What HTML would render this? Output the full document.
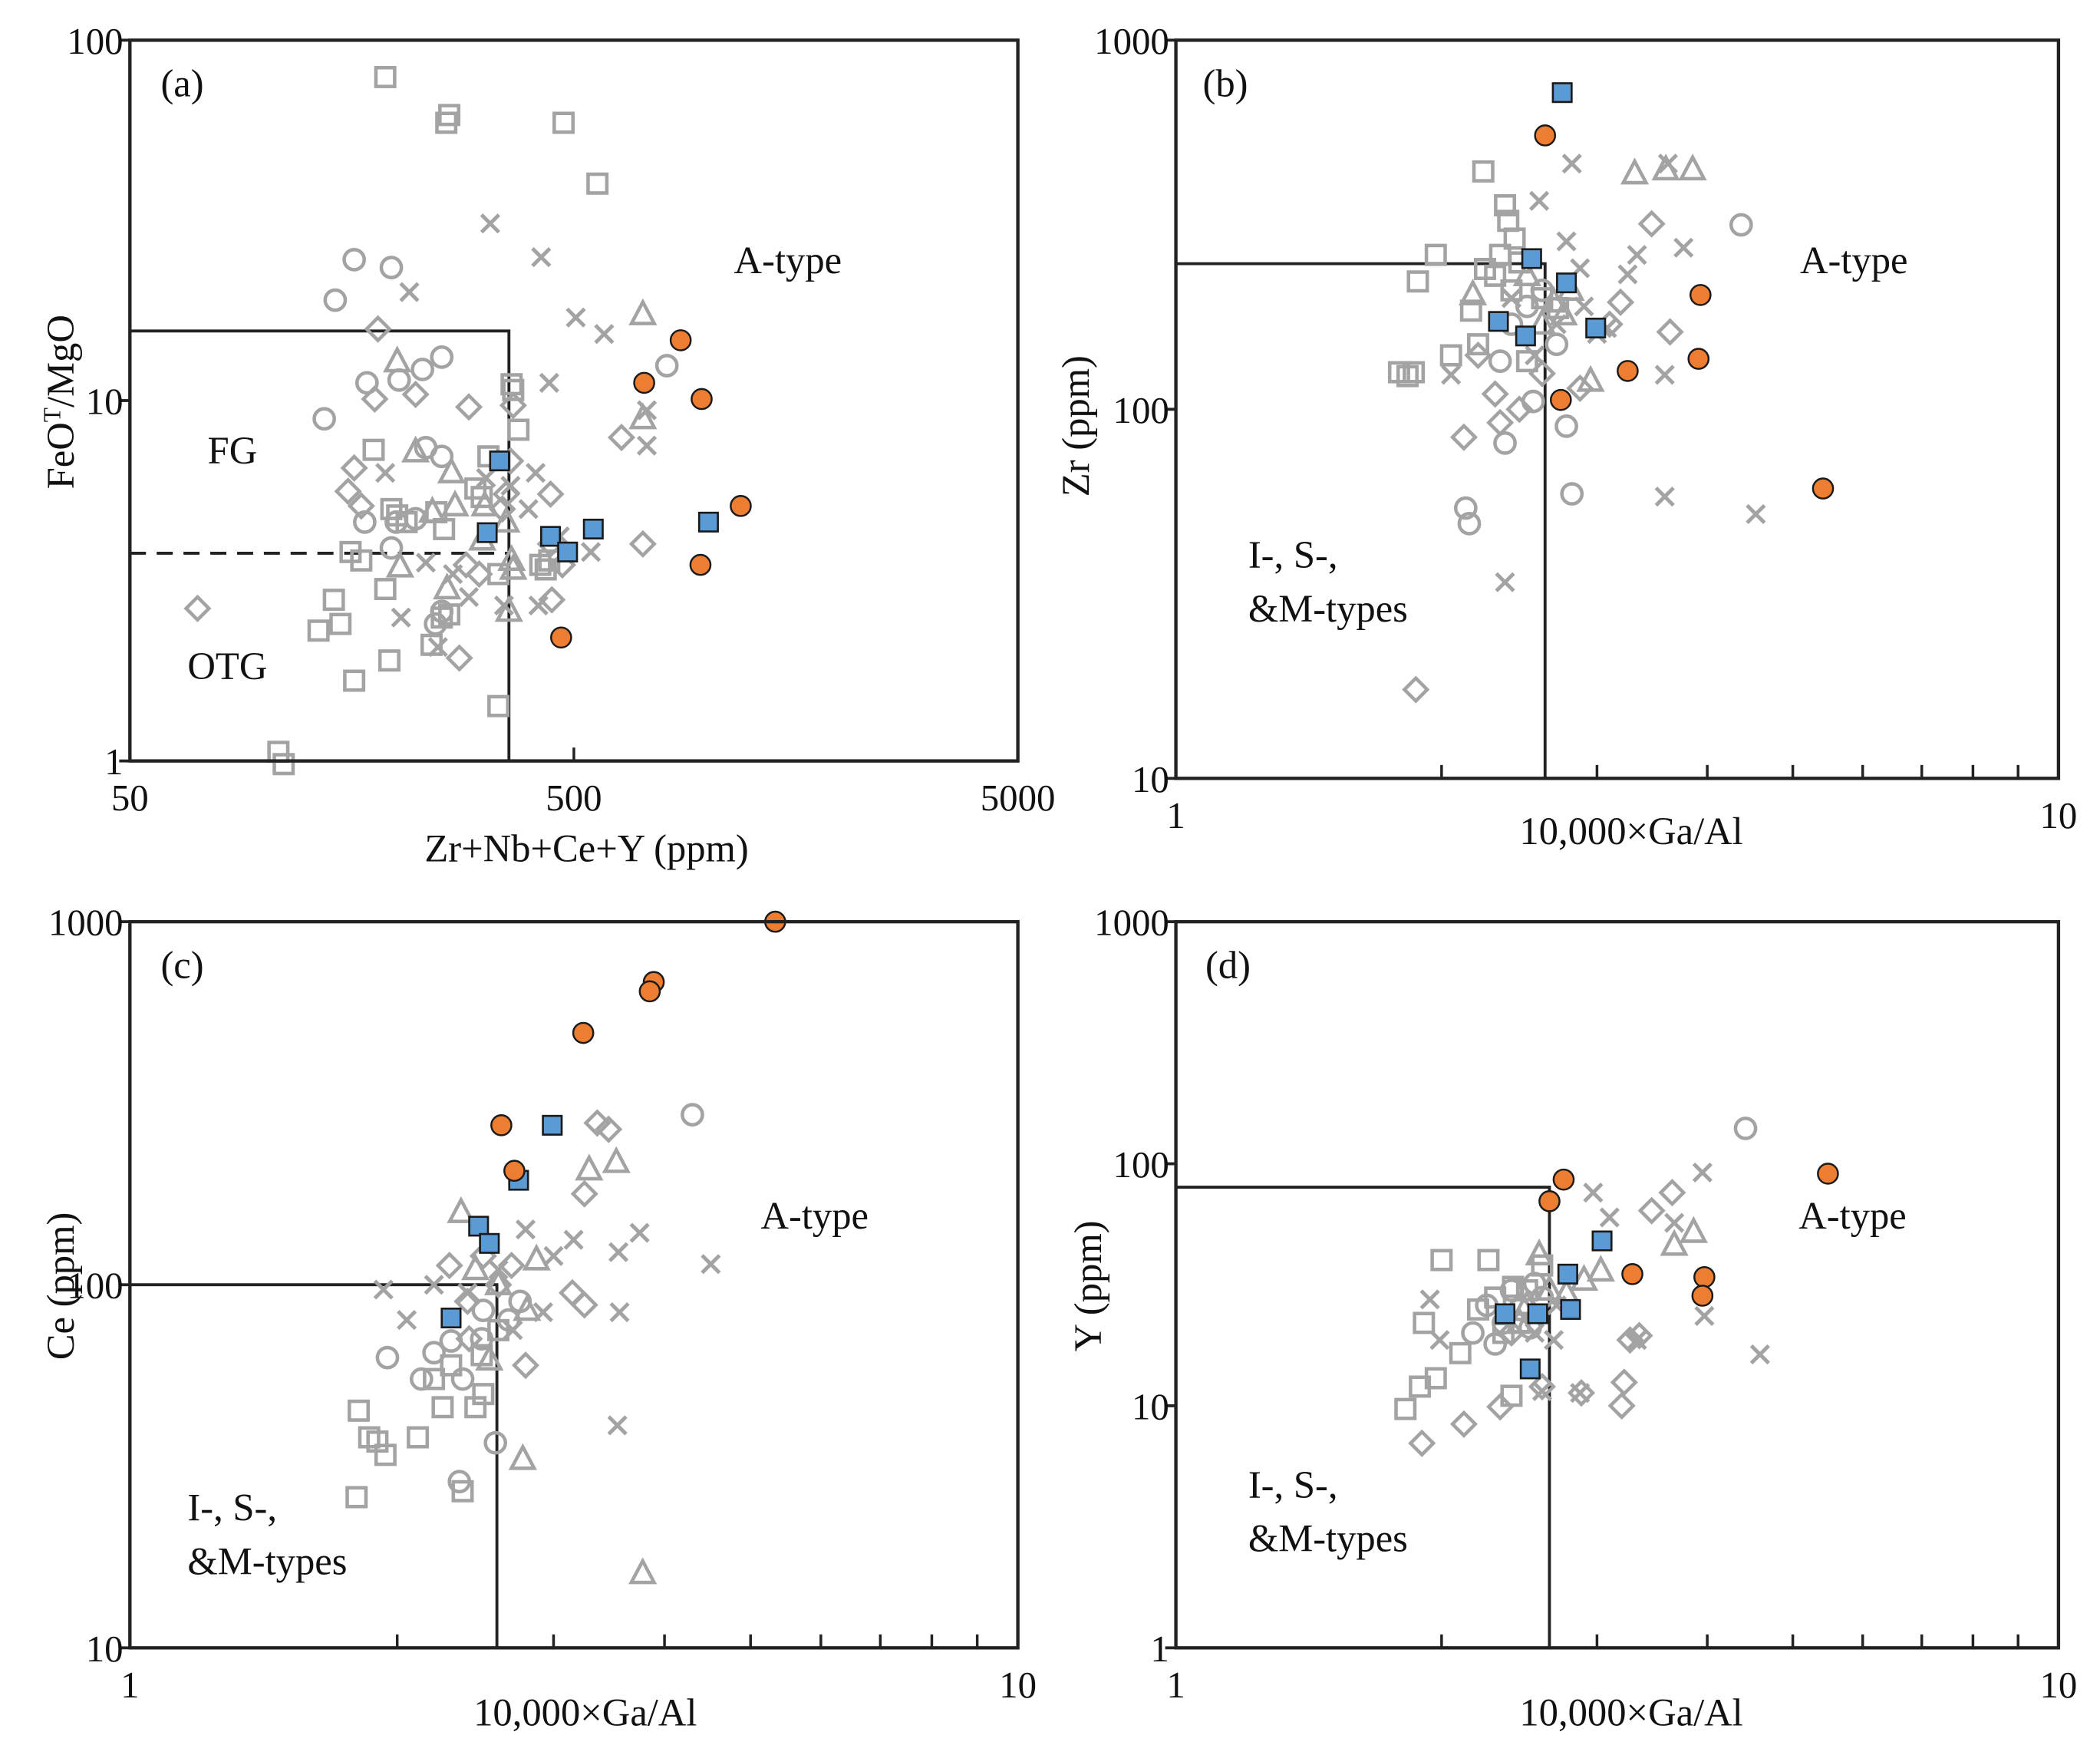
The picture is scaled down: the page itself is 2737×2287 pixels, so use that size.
<!DOCTYPE html>
<html><head><meta charset="utf-8"><title>Granite discrimination diagrams</title>
<style>
html,body{margin:0;padding:0;background:#fff;}
svg{display:block;font-family:"Liberation Serif",serif;}
</style></head>
<body>
<svg id="fig" width="2737" height="2287" viewBox="0 0 1568 1310" preserveAspectRatio="none" xmlns="http://www.w3.org/2000/svg">
<g id="root"></g>
</svg>
<script>
// ---------- DATA (values in data units) ----------
// Panel (a): x = Zr+Nb+Ce+Y (ppm), y = FeOT/MgO
const aOrange=[[870,14.7],[720,11.2],[970,10.1],[1188,5.1],[964,3.5],[468,2.2]];
const aBlue=[[340,6.8],[319,4.3],[443,4.2],[484,3.8],[553,4.4],[1005,4.6]];
const aSquare=[[188,79],[258,59],[262,62],[474,59],[565,40],[362,11.1],[365,10.7],[375,8.3],[177,7.3],[194,5.0],[200,4.8],[321,7.0],[300,5.7],[310,5.4],[245,4.9],[157,3.8],[166,3.6],[188,3.0],[144,2.8],[133,2.3],[149,2.4],[239,2.1],[192,1.9],[160,1.67],[338,1.42],[108,1.06],[111,0.98],[210,4.6],[255,4.4],[252,2.5],[262,2.55],[338,3.3],[440,3.6],[420,3.5],[432,3.4]];
const aCircle=[[160,24.6],[194,23.4],[145,19.0],[137,8.9],[171,11.2],[228,12.2],[252,13.2],[202,11.4],[252,7.0],[232,7.4],[169,4.6],[199,4.6],[220,4.7],[194,3.9],[244,2.4],[252,2.6],[810,12.5]];
const aDiamond=[[181,15.8],[178,10.1],[220,10.4],[290,9.6],[365,9.7],[160,6.5],[155,5.6],[166,5.1],[345,5.0],[443,5.5],[286,3.5],[306,3.3],[443,4.0],[471,3.5],[446,2.8],[71,2.65],[276,1.93],[640,7.9],[715,4.0],[352,5.5],[360,6.8]];
const aTriangle=[[200,12.8],[220,7.2],[265,6.3],[240,4.9],[270,5.1],[315,5.1],[352,4.6],[311,4.1],[362,3.6],[365,3.4],[203,3.45],[259,3.0],[357,2.6],[715,17.3],[715,8.9]];
const aCross=[[324,31],[422,25],[213,20],[505,17],[585,15.3],[440,11.2],[730,9.4],[730,7.5],[317,6.1],[188,6.3],[410,6.3],[232,3.55],[267,3.3],[204,2.5],[290,2.85],[348,2.7],[465,4.2],[546,3.8],[416,2.7],[247,2.07],[360,5.8],[395,5.0]];
// Panel (b): x = 10000*Ga/Al, y = Zr (ppm)
const bOrange=[[2.62,552],[3.93,204],[3.91,137],[3.25,127],[2.73,106],[5.41,61]];
const bBlue=[[2.74,721],[2.53,256],[2.77,220],[2.32,173],[2.49,158],[2.99,166]];
const bSquare=[[2.23,441],[2.36,357],[1.97,262],[1.88,222],[2.16,185],[1.79,126],[1.86,126],[1.83,123],[2.38,324],[2.42,290],[2.33,262],[2.24,240],[2.5,135],[2.71,188],[2.2,150],[2.4,210],[2.3,230],[2.45,250],[2.6,200],[2.05,140]];
const bCircle=[[4.37,316],[2.13,54],[2.15,49],[2.36,81],[2.77,90],[2.81,59],[2.33,135],[2.54,105],[2.6,210],[2.4,170],[2.7,150],[2.5,190]];
const bDiamond=[[3.46,318],[1.87,17.4],[2.12,84],[3.63,162],[2.33,92],[3.19,195],[2.87,114],[2.2,140],[2.45,100],[2.6,125],[3.1,170],[2.3,110]];
const bTriangle=[[3.31,434],[3.59,445],[3.85,445],[2.95,119],[2.68,195],[2.17,204],[2.5,230],[2.8,210],[2.6,170],[2.75,180]];
const bCross=[[2.81,463],[2.77,285],[3.61,463],[3.33,262],[3.76,274],[3.25,232],[2.36,34],[3.58,58],[4.54,52],[3.58,124],[3.08,166],[2.87,241],[2.05,124],[2.58,367],[2.4,200],[2.7,170],[2.9,190],[3.0,160],[2.55,140]];
// Panel (c): x = 10000*Ga/Al, y = Ce (ppm)
const cOrange=[[5.33,1000],[3.89,682],[3.85,643],[3.24,494],[2.62,275],[2.71,206]];
const cBlue=[[2.99,275],[2.74,194],[2.47,145],[2.54,130],[2.30,81]];
const cSquare=[[1.81,45],[1.86,38],[1.94,34],[1.80,26],[2.11,38],[2.25,46],[2.45,46],[2.49,64],[2.37,27],[1.9,37],[2.2,55],[2.6,75],[2.3,60],[2.5,50]];
const cCircle=[[4.30,294],[2.37,55],[1.95,63],[2.13,55],[2.35,28.7],[2.58,36.7],[2.49,71],[2.67,80],[2.2,65],[2.75,90],[2.5,85],[2.3,70]];
const cDiamond=[[3.36,279],[3.46,268],[3.25,178],[2.69,113],[2.29,113],[2.41,71],[2.79,60],[3.15,95],[3.25,88],[2.4,90],[2.6,100],[2.5,120]];
const cTriangle=[[2.36,158],[3.29,207],[3.53,217],[3.78,16],[2.77,33],[2.87,117],[2.54,62],[2.6,100],[2.8,85],[2.45,110]];
const cCross=[[1.93,97],[2.79,142],[3.55,123],[3.75,139],[4.51,114],[3.54,41],[3.16,133],[2.92,84],[3.56,84],[2.05,80],[2.2,100],[2.6,110],[3.0,120],[2.4,95],[2.7,75]];
// Panel (d): x = 10000*Ga/Al, y = Y (ppm)
const dOrange=[[5.48,91],[2.75,86],[2.65,70],[3.29,35],[3.97,34],[3.95,28.5]];
const dBlue=[[3.04,48],[2.78,35],[2.80,25],[2.57,24],[2.36,24],[2.52,14.2]];
const dSquare=[[2.00,40],[1.91,22],[1.82,9.7],[1.89,12],[1.97,13],[2.26,40],[2.41,31],[2.10,16.5],[2.4,11],[2.2,25],[2.35,20],[2.6,38],[2.5,30],[2.3,28],[2.45,22]];
const dCircle=[[4.42,140],[2.17,20],[2.35,22],[2.52,21],[2.25,26],[2.4,30],[2.6,28],[2.45,25],[2.3,18],[2.55,32]];
const dDiamond=[[1.90,7.0],[2.12,8.4],[2.88,11.3],[3.20,10.0],[3.22,12.5],[3.27,18.7],[3.35,19.5],[3.46,64],[3.65,76],[2.33,9.9],[2.6,12],[2.4,20]];
const dTriangle=[[3.86,52],[3.67,46],[3.03,36],[2.58,42],[2.77,29],[2.45,22],[2.9,33],[2.65,30],[2.5,26]];
const dCross=[[3.95,92],[2.97,76],[4.59,16.3],[3.97,23.5],[3.67,57],[1.94,27.5],[1.99,18.7],[3.33,18.7],[2.68,18.7],[2.87,11.3],[2.6,11.5],[2.7,26],[3.1,60],[2.55,20],[2.35,24]];

// boundary values
const aBoundX=357, aBoundY=15.6, aDashY=3.77;
const bBoundX=2.62, bBoundY=248;
const cBoundX=2.59, cBoundY=100;
const dBoundX=2.65, dBoundY=80;

// ---------- DRAWING ----------
const NS="http://www.w3.org/2000/svg";
const root=document.getElementById('root');
function el(tag,attrs,parent){const e=document.createElementNS(NS,tag);for(const k in attrs)e.setAttribute(k,attrs[k]);(parent||root).appendChild(e);return e;}
function txt(s,x,y,size,anchor,parent){const t=el('text',{x:x,y:y,'font-size':size,'text-anchor':anchor||'start',fill:'#111'},parent);t.textContent=s;return t;}
function logScale(d0,d1,p0,p1){const a=Math.log10(d0),b=Math.log10(d1);return v=>p0+(Math.log10(v)-a)/(b-a)*(p1-p0);}

const GRAY='#a3a3a3';
function drawMarker(g,type,px,py){
  let m;
  if(type==='square'){m=el('rect',{x:px-7,y:py-7,width:14,height:14,fill:'none',stroke:GRAY,'stroke-width':2.6},g);}
  else if(type==='circle'){m=el('circle',{cx:px,cy:py,r:7.5,fill:'none',stroke:GRAY,'stroke-width':2.6},g);}
  else if(type==='diamond'){m=el('polygon',{points:`${px},${py-8.5} ${px+8.5},${py} ${px},${py+8.5} ${px-8.5},${py}`,fill:'none',stroke:GRAY,'stroke-width':2.6},g);}
  else if(type==='triangle'){m=el('polygon',{points:`${px},${py-9.5} ${px+8.5},${py+6.5} ${px-8.5},${py+6.5}`,fill:'none',stroke:GRAY,'stroke-width':2.6},g);}
  else if(type==='cross'){m=el('path',{d:`M${px-6.5},${py-6.5}L${px+6.5},${py+6.5}M${px+6.5},${py-6.5}L${px-6.5},${py+6.5}`,fill:'none',stroke:GRAY,'stroke-width':2.8},g);}
  else if(type==='orange'){m=el('circle',{cx:px,cy:py,r:7.5,fill:'#ed7d31',stroke:'#1a1a1a','stroke-width':1.4},g);}
  else if(type==='blue'){m=el('rect',{x:px-7,y:py-7,width:14,height:14,fill:'#5b9bd5',stroke:'#1a1a1a','stroke-width':1.5},g);}
  return m;
}

function panel(cfg){
  const g=el('g',{});
  
  
  const X=logScale(cfg.xd[0],cfg.xd[1],cfg.l,cfg.r);
  const Y=logScale(cfg.yd[0],cfg.yd[1],cfg.b,cfg.t);
  const bl=el('path',{d:`M${cfg.l},${Y(cfg.by)}L${X(cfg.bx)},${Y(cfg.by)}L${X(cfg.bx)},${cfg.b}`,fill:'none',stroke:'#222','stroke-width':2.2},g);
  
  
  if(cfg.dash){const dl=el('line',{x1:cfg.l,y1:Y(cfg.dash),x2:X(cfg.bx),y2:Y(cfg.dash),stroke:'#222','stroke-width':2.2,'stroke-dasharray':'12,8'},g);
    
    }
  const order=[['square',cfg.sq],['circle',cfg.ci],['diamond',cfg.di],['triangle',cfg.tr],['cross',cfg.cr],['blue',cfg.bl],['orange',cfg.or]];
  order.forEach(([type,arr])=>{
    const sg=el('g',{},g);
    
    
    arr.forEach(p=>{const m=drawMarker(sg,type,X(p[0]),Y(p[1]));
      
      });
  });
  const fr=el('rect',{x:cfg.l,y:cfg.t,width:cfg.r-cfg.l,height:cfg.b-cfg.t,fill:'none',stroke:'#222','stroke-width':2.5},g);
  
  
  const xt=el('g',{},g);
  
  
  cfg.xticks.forEach(v=>{const px=X(v);el('line',{x1:px,y1:cfg.b,x2:px,y2:cfg.b-10,stroke:'#222','stroke-width':2},xt);});
  cfg.xlabels.forEach(([v,s])=>{const t=txt(s,X(v),cfg.b+37,28,'middle',xt);
    
    });
  const yt=el('g',{},g);
  
  
  cfg.ylabels.forEach(([v,s])=>{const py=Y(v);el('line',{x1:cfg.l-8,y1:py,x2:cfg.l,y2:py,stroke:'#222','stroke-width':2.2},yt);
    const t=txt(s,cfg.l-5,py+10,28,'end',yt);
    
    });
  return g;
}
function minor(a,b){const r=[];for(let d=a;d<b;d*=10)for(let k=1;k<10;k++)r.push(d*k);r.push(b);return r;}

panel({name:'panel-a',l:97,r:760,t:30,b:568,xd:[50,5000],yd:[1,100],bx:aBoundX,by:aBoundY,dash:aDashY,
  or:aOrange,bl:aBlue,sq:aSquare,ci:aCircle,di:aDiamond,tr:aTriangle,cr:aCross,
  xticks:[500],xlabels:[[50,'50'],[500,'500'],[5000,'5000']],ylabels:[[100,'100'],[10,'10'],[1,'1']]});
panel({name:'panel-b',l:878,r:1537,t:30,b:581,xd:[1,10],yd:[10,1000],bx:bBoundX,by:bBoundY,
  or:bOrange,bl:bBlue,sq:bSquare,ci:bCircle,di:bDiamond,tr:bTriangle,cr:bCross,
  xticks:minor(1,10).slice(1,-1),xlabels:[[1,'1'],[10,'10']],ylabels:[[1000,'1000'],[100,'100'],[10,'10']]});
panel({name:'panel-c',l:97,r:760,t:688,b:1230,xd:[1,10],yd:[10,1000],bx:cBoundX,by:cBoundY,
  or:cOrange,bl:cBlue,sq:cSquare,ci:cCircle,di:cDiamond,tr:cTriangle,cr:cCross,
  xticks:minor(1,10).slice(1,-1),xlabels:[[1,'1'],[10,'10']],ylabels:[[1000,'1000'],[100,'100'],[10,'10']]});
panel({name:'panel-d',l:878,r:1537,t:688,b:1230,xd:[1,10],yd:[1,1000],bx:dBoundX,by:dBoundY,
  or:dOrange,bl:dBlue,sq:dSquare,ci:dCircle,di:dDiamond,tr:dTriangle,cr:dCross,
  xticks:minor(1,10).slice(1,-1),xlabels:[[1,'1'],[10,'10']],ylabels:[[1000,'1000'],[100,'100'],[10,'10'],[1,'1']]});
</script>
<svg style="position:absolute;left:0;top:0" width="2737" height="2287" viewBox="0 0 1568 1310" preserveAspectRatio="none">
<g font-family="Liberation Serif, serif" fill="#111" font-size="29">
<text x="438" y="643" text-anchor="middle">Zr+Nb+Ce+Y (ppm)</text>
<text x="1218" y="630" text-anchor="middle">10,000×Ga/Al</text>
<text x="437" y="1288" text-anchor="middle">10,000×Ga/Al</text>
<text x="1218" y="1288" text-anchor="middle">10,000×Ga/Al</text>
<text transform="translate(55,300) rotate(-90)" text-anchor="middle">FeO<tspan font-size="18" dy="-10">T</tspan><tspan dy="10">/MgO</tspan></text>
<text transform="translate(813,318) rotate(-90)" text-anchor="middle">Zr (ppm)</text>
<text transform="translate(55,960) rotate(-90)" text-anchor="middle">Ce (ppm)</text>
<text transform="translate(822,960) rotate(-90)" text-anchor="middle">Y (ppm)</text>
<text x="120" y="72">(a)</text>
<text x="898" y="72">(b)</text>
<text x="120" y="730">(c)</text>
<text x="900" y="730">(d)</text>
<text x="548" y="204">A-type</text>
<text x="155" y="346">FG</text>
<text x="140" y="507">OTG</text>
<text x="1344" y="204">A-type</text>
<text x="932" y="424">I-, S-,</text>
<text x="932" y="464">&amp;M-types</text>
<text x="568" y="917">A-type</text>
<text x="140" y="1135">I-, S-,</text>
<text x="140" y="1175">&amp;M-types</text>
<text x="1343" y="917">A-type</text>
<text x="932" y="1118">I-, S-,</text>
<text x="932" y="1158">&amp;M-types</text>
</g>
</svg>
</body></html>
